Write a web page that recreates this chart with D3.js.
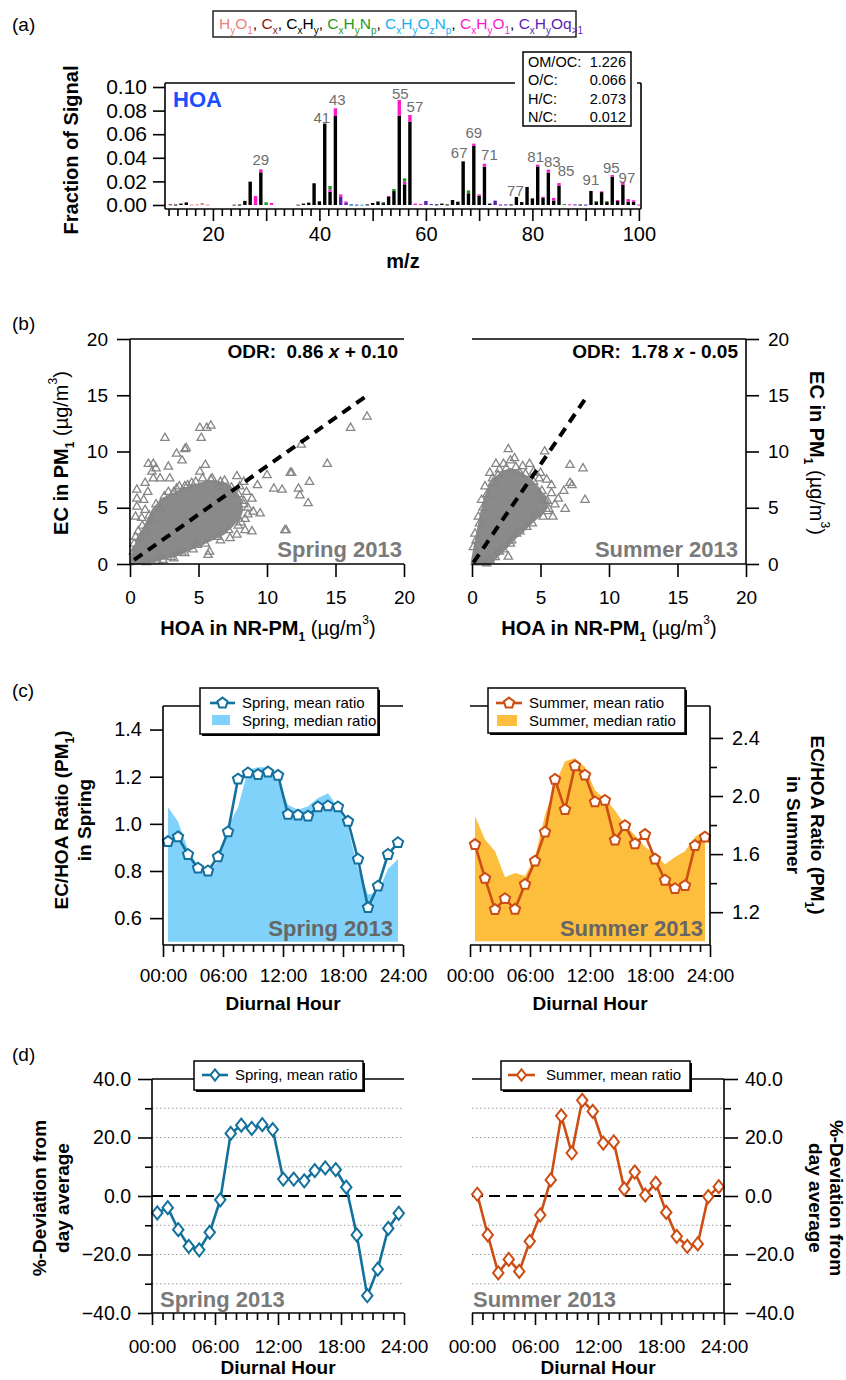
<!DOCTYPE html>
<html>
<head>
<meta charset="utf-8">
<script src="https://cdn.jsdelivr.net/npm/d3@7"></script>
<style>
body { margin: 0; background: #fff; }
svg { display: block; font-family: "Liberation Sans", Arial, Helvetica, sans-serif; }
</style>
</head>
<body>
<svg id="chart" width="846" height="1380"></svg>
<script>
// ---- (a) HOA mass spectrum, fraction of signal per ion family, [m/z, value]
var famHyO1 = [[16, 0.0004], [17, 0.0006], [18, 0.0016], [19, 0.0004]];
var famCx = [[12, 0.0006], [24, 0.0003], [36, 0.0003]];
var famCxHy = [[13, 0.0004], [14, 0.0012], [15, 0.0022], [25, 0.0004], [26, 0.0035], [27, 0.0198],
  [29, 0.0277], [37, 0.0012], [38, 0.002], [39, 0.0184], [40, 0.0031], [41, 0.069], [42, 0.0113],
  [43, 0.0754], [49, 0.0005], [50, 0.0017], [51, 0.003], [52, 0.0016], [53, 0.0072], [54, 0.0118],
  [55, 0.0757], [56, 0.0175], [57, 0.0706], [62, 0.0005], [63, 0.0012], [64, 0.0005], [65, 0.0042],
  [66, 0.0028], [67, 0.037], [68, 0.0099], [69, 0.0503], [70, 0.0078], [71, 0.0325], [72, 0.0012],
  [76, 0.0005], [77, 0.0068], [78, 0.0025], [79, 0.0153], [80, 0.0056], [81, 0.0327], [82, 0.0062],
  [83, 0.0274], [84, 0.0037], [85, 0.0164], [89, 0.0004], [91, 0.0119], [92, 0.0025], [93, 0.011],
  [94, 0.0025], [95, 0.024], [96, 0.0034], [97, 0.017], [98, 0.0028], [99, 0.0028]];
var famCxHyOq = [[44, 0.007], [45, 0.0018], [46, 0.0004], [47, 0.0003], [60, 0.0034], [61, 0.0008],
  [73, 0.0037], [74, 0.0004], [75, 0.0005], [88, 0.0005], [90, 0.0004]];
var famCxHyO1 = [[28, 0.0076], [29, 0.0025], [31, 0.0017], [42, 0.002], [43, 0.0066], [44, 0.0019],
  [45, 0.0012], [53, 0.0004], [55, 0.0133], [56, 0.0023], [57, 0.0057], [58, 0.0012], [59, 0.0008],
  [69, 0.0017], [70, 0.0012], [71, 0.0025], [81, 0.0015], [82, 0.0008], [83, 0.0026], [84, 0.0023],
  [85, 0.0022], [87, 0.0006], [93, 0.0006], [95, 0.0014], [96, 0.0008], [97, 0.0025], [98, 0.0022],
  [99, 0.0012], [100, 0.0004]];
var famCxHyOzNp = [[46, 0.0003], [48, 0.0003]];
var famCxHyNp = [[30, 0.0023], [42, 0.0028], [52, 0.0008], [54, 0.0018], [56, 0.0028], [68, 0.0025],
  [86, 0.0008], [92, 0.0008], [94, 0.0008]];
var peakLabels = [29, 41, 43, 55, 57, 67, 69, 71, 77, 81, 83, 85, 91, 95, 97];
var elemRatios = [["OM/OC:", "1.226"], ["O/C:", "0.066"], ["H/C:", "2.073"], ["N/C:", "0.012"]];
var specYTicks = [0, 0.02, 0.04, 0.06, 0.08, 0.10];
var specXLabels = [20, 40, 60, 80, 100];

// ---- (b) EC vs HOA scatter, [HOA, EC] in ug/m3
var springCore = [[0.24, 1.24], [0.73, 2.43], [1.22, 3.6], [1.7, 4.8], [2.3, 5.7], [3.0, 6.1], [3.9, 6.6],
  [4.9, 7.0], [5.6, 7.3], [6.3, 7.3], [7.1, 7.0], [7.7, 6.4], [8.0, 5.8], [8.15, 4.8], [8.0, 4.2],
  [7.5, 3.5], [6.8, 2.7], [6.1, 2.3], [5.1, 1.7], [4.1, 1.2], [3.4, 0.8], [2.4, 0.5], [1.5, 0.2],
  [0.5, 0.06], [0.12, 0]];
var springPts = [[17.3, 13.1], [16.1, 12.1], [14.4, 8.9], [13.1, 7.3], [13.0, 5.4], [12.5, 10.6], [12.3, 6.7],
  [12.4, 6.1], [11.7, 8.1], [11.8, 8.1], [11.1, 6.6], [10.5, 6.7], [10.0, 7.9], [11.4, 3.0], [11.3, 3.0],
  [9.3, 7.0], [9.0, 4.65], [9.5, 4.5], [8.9, 2.9], [8.4, 3.0], [7.8, 2.6], [7.3, 2.3], [6.6, 2.1],
  [5.7, 0.8], [5.8, 1.1], [4.9, 1.7], [4.0, 0.95], [3.2, 0.5], [2.4, 0.35], [3.6, 1.2],
  [5.1, 12.1], [5.6, 12.1], [5.9, 12.3], [5.2, 11.2], [2.55, 11.2], [3.4, 9.8], [4.1, 10.3], [4.0, 10.2],
  [3.8, 9.2], [2.8, 8.65], [1.34, 8.9], [1.7, 8.9], [1.9, 8.5], [5.5, 8.8], [1.6, 8.2], [1.7, 7.6],
  [2.2, 7.6], [2.9, 7.6], [5.1, 8.2], [6.0, 7.6], [7.8, 7.8], [8.3, 7.3], [1.1, 7.2], [0.5, 6.6],
  [0.5, 5.8], [1.0, 5.7], [0.5, 5.1], [0.4, 4.2], [0.85, 4.1], [1.1, 4.8], [1.3, 6.4], [2.8, 6.4],
  [3.4, 6.7], [6.45, 6.9], [8.0, 6.9], [8.5, 6.4], [8.9, 5.8], [8.6, 4.4], [7.9, 3.4], [0.25, 1.1],
  [0.73, 2.3], [1.1, 3.0], [4.5, 7.2], [3.6, 6.9], [7.2, 6.6], [8.3, 5.3], [6.9, 7.4], [4.2, 7.0],
  [0.3, 1.8], [0.6, 2.9], [0.9, 3.4], [1.4, 4.3], [1.9, 5.3], [2.5, 6.0], [3.2, 6.4], [4.0, 6.9],
  [4.8, 7.3], [5.3, 7.6], [5.9, 7.5], [6.6, 7.3], [7.4, 6.8], [7.9, 6.2], [8.3, 5.6], [8.6, 5.0],
  [8.4, 4.0], [8.1, 3.7], [7.2, 3.0], [6.4, 2.4], [5.5, 1.8], [4.6, 1.3], [3.8, 1.0], [3.0, 0.6],
  [2.0, 0.3], [1.2, 0.15], [0.6, 0.7], [0.4, 2.4], [1.6, 3.9], [2.2, 4.9]];
var summerCore = [[0.05, 0.36], [0.22, 1.54], [0.46, 3.0], [0.7, 4.5], [0.95, 5.7], [1.3, 6.9], [1.7, 7.6],
  [2.2, 8.1], [2.8, 8.4], [3.5, 8.1], [4.2, 7.5], [4.85, 6.7], [5.3, 5.8], [5.45, 5.1], [5.1, 4.5],
  [4.5, 3.9], [3.75, 3.0], [3.1, 2.3], [2.5, 1.5], [1.9, 0.8], [1.45, 0.2], [1.07, 0], [0, 0]];
var summerPts = [[8.1, 8.5], [7.15, 8.8], [8.25, 5.7], [7.15, 7.2], [7.3, 7.0], [6.7, 6.5], [6.8, 4.9],
  [5.9, 4.2], [6.05, 5.3], [5.3, 10.0], [2.65, 10.2], [1.75, 8.9], [2.3, 8.9], [4.2, 8.9], [4.5, 8.2],
  [5.8, 7.0], [2.65, 0.65], [2.8, 9.2], [3.1, 9.4], [5.0, 8.1], [5.45, 7.5], [5.8, 6.3], [5.3, 5.7],
  [1.3, 8.1], [0.95, 6.9], [0.7, 5.7], [0.46, 4.2], [0.22, 2.7], [0.1, 1.5], [0.34, 0.8], [4.7, 4.5],
  [4.0, 3.3], [3.26, 2.7], [2.8, 1.8], [2.0, 1.1], [1.3, 0.35], [1.07, 0.06], [3.5, 8.1], [2.0, 8.4],
  [3.7, 8.7], [4.9, 7.6], [1.5, 7.6], [5.5, 4.7], [6.3, 5.8],
  [0.3, 2.1], [0.55, 3.6], [0.8, 5.0], [1.1, 6.2], [1.5, 7.2], [1.9, 7.9], [2.5, 8.5], [3.2, 8.6],
  [3.9, 8.0], [4.5, 7.3], [5.1, 6.5], [5.5, 5.6], [5.6, 4.9], [5.2, 4.2], [4.4, 3.6], [3.5, 2.9],
  [2.9, 2.1], [2.3, 1.3], [1.7, 0.6], [0.6, 0.3]];
var springFit = [[0.3, 0.358], [17.3, 14.978]];
var summerFit = [[0.1, 0.128], [8.25, 14.635]];

// ---- (c) diurnal EC/HOA ratio, (d) %-deviation from day average
var hours = [0.5, 1.5, 2.5, 3.5, 4.5, 5.5, 6.5, 7.5, 8.5, 9.5, 10.5, 11.5,
  12.5, 13.5, 14.5, 15.5, 16.5, 17.5, 18.5, 19.5, 20.5, 21.5, 22.5, 23.5];
var springMean = [0.925, 0.945, 0.87, 0.812, 0.80, 0.86, 0.966, 1.19, 1.216, 1.209, 1.22, 1.206,
  1.04, 1.037, 1.033, 1.072, 1.076, 1.072, 1.011, 0.85, 0.645, 0.736, 0.87, 0.92];
var springMedian = [1.07, 1.01, 0.89, 0.82, 0.80, 0.84, 0.99, 1.07, 1.23, 1.24, 1.24, 1.18,
  1.08, 1.06, 1.075, 1.11, 1.13, 1.07, 0.985, 0.81, 0.70, 0.71, 0.81, 0.85];
var summerMean = [1.666, 1.433, 1.218, 1.293, 1.22, 1.392, 1.552, 1.751, 2.115, 1.906, 2.208, 2.144,
  1.959, 1.97, 1.696, 1.796, 1.671, 1.735, 1.566, 1.42, 1.362, 1.383, 1.659, 1.717];
var summerMedian = [1.86, 1.70, 1.62, 1.44, 1.47, 1.45, 1.58, 1.87, 2.08, 2.24, 2.26, 2.20,
  2.04, 1.98, 1.90, 1.80, 1.73, 1.65, 1.60, 1.53, 1.58, 1.62, 1.72, 1.76];
var springDev = [-5.8, -4.0, -11.5, -17.2, -18.4, -12.4, -1.3, 21.4, 24.2, 23.1, 24.4, 22.7,
  5.8, 5.8, 5.2, 8.7, 9.6, 9.0, 3.0, -13.3, -34.1, -25.0, -11.1, -5.9];
var summerDev = [0.6, -13.3, -26.3, -21.7, -25.8, -15.5, -6.5, 5.5, 27.4, 14.7, 32.7, 28.9,
  18.1, 18.5, 2.4, 8.2, 0.3, 4.4, -5.6, -13.8, -17.2, -16.4, -0.2, 3.2];
var hourTicks = [0, 6, 12, 18, 24];
var hourLabels = ["00:00", "06:00", "12:00", "18:00", "24:00"];

var svg = d3.select("#chart");
var LW = 1.6;
var GREY = "#7a7a7a";

function line(x1, y1, x2, y2, w) {
  return svg.append("line").attr("x1", x1).attr("y1", y1).attr("x2", x2).attr("y2", y2)
    .attr("stroke", "#000").attr("stroke-width", w || LW);
}

function txt(x, y, s, o) {
  o = o || {};
  var t = svg.append("text").attr("x", x).attr("y", y).text(s)
    .attr("font-size", o.fs || 19)
    .attr("font-weight", o.bold ? "bold" : "normal")
    .attr("text-anchor", o.anchor || "start")
    .attr("fill", o.color || "#000");
  if (o.rot) t.attr("transform", "rotate(" + o.rot + "," + x + "," + y + ")");
  return t;
}

// parts: [text, kind ("n" | "sub" | "sup"), bold, color, italic]
function rich(x, y, parts, o) {
  o = o || {};
  var fs = o.fs || 19;
  var t = svg.append("text").attr("x", x).attr("y", y)
    .attr("font-size", fs).attr("text-anchor", o.anchor || "start");
  if (o.rot) t.attr("transform", "rotate(" + o.rot + "," + x + "," + y + ")");
  var cur = 0;
  parts.forEach(function (p) {
    var shift = p[1] === "sub" ? 0.3 * fs : (p[1] === "sup" ? -0.55 * fs : 0);
    t.append("tspan").text(p[0])
      .attr("dy", shift - cur)
      .attr("font-size", p[1] === "n" ? fs : Math.round(fs * 0.62))
      .attr("font-weight", p[2] ? "bold" : "normal")
      .attr("font-style", p[4] ? "italic" : "normal")
      .attr("fill", p[3] || "#000");
    cur = shift;
  });
  return t;
}

function styleAxis(g, fs) {
  g.select(".domain").remove();
  g.selectAll(".tick line").attr("stroke", "#000").attr("stroke-width", LW);
  g.selectAll(".tick text").attr("font-size", fs).attr("fill", "#000")
    .attr("font-family", '"Liberation Sans", Arial, sans-serif');
}

function legendBox(x, y, w, h) {
  svg.append("rect").attr("x", x + 2).attr("y", y + 2).attr("width", w).attr("height", h).attr("fill", "#000");
  svg.append("rect").attr("x", x).attr("y", y).attr("width", w).attr("height", h)
    .attr("fill", "#fff").attr("stroke", "#000").attr("stroke-width", 1.5);
}

// ================= (a) =================
txt(12, 31, "(a)", { fs: 19 });

var specX = d3.scaleLinear().domain([11, 100.4]).range([165, 641]);
var specY = d3.scaleLinear().domain([-0.0034, 0.1034]).range([209, 83]);

var families = [
  { color: "#f08080", data: famHyO1, label: [["H", "n"], ["y", "sub"], ["O", "n"], ["1", "sub"]] },
  { color: "#8b1a1a", data: famCx, label: [["C", "n"], ["x", "sub"]] },
  { color: "#000000", data: famCxHy, label: [["C", "n"], ["x", "sub"], ["H", "n"], ["y", "sub"]] },
  { color: "#1f9a1f", data: famCxHyNp, label: [["C", "n"], ["x", "sub"], ["H", "n"], ["y", "sub"], ["N", "n"], ["p", "sub"]] },
  { color: "#17b0ee", data: famCxHyOzNp, label: [["C", "n"], ["x", "sub"], ["H", "n"], ["y", "sub"], ["O", "n"], ["z", "sub"], ["N", "n"], ["p", "sub"]] },
  { color: "#ff19c8", data: famCxHyO1, label: [["C", "n"], ["x", "sub"], ["H", "n"], ["y", "sub"], ["O", "n"], ["1", "sub"]] },
  { color: "#5b1fb4", data: famCxHyOq, label: [["C", "n"], ["x", "sub"], ["H", "n"], ["y", "sub"], ["Oq", "n"], [">1", "sub"]] }
];
// stacking order seen in the spectrum
var stackOrder = [0, 1, 2, 6, 5, 4, 3];
var base = {};
var segs = [];
stackOrder.forEach(function (fi) {
  var f = families[fi];
  f.data.forEach(function (d) {
    var b = base[d[0]] || 0;
    segs.push({ mz: d[0], y0: b, y1: b + d[1], color: f.color });
    base[d[0]] = b + d[1];
  });
});

svg.append("g").selectAll("rect").data(segs).enter().append("rect")
  .attr("x", function (d) { return specX(d.mz) - 1.7; })
  .attr("width", 3.4)
  .attr("y", function (d) { return specY(d.y1); })
  .attr("height", function (d) { return Math.max(1, specY(d.y0) - specY(d.y1)); })
  .attr("fill", function (d) { return d.color; });

// peak labels
var labelNudge = { 29: [0, -4], 41: [-3, -1], 43: [2, -3], 55: [1, -1], 57: [5, -3], 67: [-4, -3], 69: [0, -6],
  71: [5, -4], 77: [-1, -1], 81: [-2, -3], 83: [4, -3], 85: [7, -7], 91: [0, -6], 95: [-1, -2], 97: [4, 1] };
svg.append("g").selectAll("text").data(peakLabels).enter().append("text")
  .attr("x", function (d) { return specX(d) + labelNudge[d][0]; })
  .attr("y", function (d) { return specY(base[d]) + labelNudge[d][1]; })
  .attr("text-anchor", "middle").attr("font-size", 15).attr("fill", "#6e6e6e")
  .text(function (d) { return d; });

// frame
line(165, 83, 641, 83);
line(165, 209, 641, 209);
line(165, 83, 165, 209);
line(641, 83, 641, 209);

var gy = svg.append("g").attr("transform", "translate(165,0)")
  .call(d3.axisLeft(specY).tickValues(specYTicks).tickSize(12).tickPadding(6).tickFormat(d3.format(".2f")));
styleAxis(gy, 21);

var minorMz = d3.range(0, 55).map(function (i) { return 20 + (i - 5) * 20 / 12; })
  .filter(function (v) { return v > 11 && v <= 100.4 && Math.abs(v - Math.round(v / 10) * 10) > 0.01; });
var gxm = svg.append("g").attr("transform", "translate(0,209)")
  .call(d3.axisBottom(specX).tickValues(minorMz).tickSize(7).tickFormat(""));
styleAxis(gxm, 20);
var gx = svg.append("g").attr("transform", "translate(0,209)")
  .call(d3.axisBottom(specX).tickValues(d3.range(20, 101, 10)).tickSize(12).tickPadding(6)
    .tickFormat(function (d) { return specXLabels.indexOf(d) >= 0 ? d : ""; }));
styleAxis(gx, 20);

txt(78, 150, "Fraction of Signal", { fs: 20, bold: true, anchor: "middle", rot: -90 });
txt(403, 268, "m/z", { fs: 20, bold: true, anchor: "middle" });
txt(173, 107, "HOA", { fs: 22, bold: true, color: "#1a4dff" });

// ion family legend
svg.append("rect").attr("x", 213).attr("y", 11).attr("width", 363).attr("height", 26)
  .attr("fill", "#fff").attr("stroke", "#000").attr("stroke-width", 1.3);
var legParts = [];
families.forEach(function (f, i) {
  f.label.forEach(function (p) { legParts.push([p[0], p[1], false, f.color]); });
  if (i < families.length - 1) legParts.push([", ", "n", false, "#000"]);
});
rich(219, 29, legParts, { fs: 15.5 });

// elemental ratio box
svg.append("rect").attr("x", 515).attr("y", 48).attr("width", 122).attr("height", 82).attr("fill", "#fff");
svg.append("rect").attr("x", 523).attr("y", 52).attr("width", 108).attr("height", 74)
  .attr("fill", "#fff").attr("stroke", "#000").attr("stroke-width", 1.5);
elemRatios.forEach(function (r, i) {
  txt(528, 67 + i * 18.3, r[0], { fs: 14.5 });
  txt(626, 67 + i * 18.3, r[1], { fs: 14.5, anchor: "end" });
});

// ================= (b) =================
txt(12, 330, "(b)", { fs: 19 });
var yB = d3.scaleLinear().domain([0, 20]).range([564, 339]);
var xB1 = d3.scaleLinear().domain([0, 20]).range([130, 404]);
var xB2 = d3.scaleLinear().domain([0, 20]).range([472, 746]);
var tri = d3.symbol().type(d3.symbolTriangle).size(30);

function scatterPanel(xs, core, pts, fit) {
  svg.append("path").datum(core)
    .attr("d", d3.line().x(function (d) { return xs(d[0]); }).y(function (d) { return yB(d[1]); }).curve(d3.curveLinearClosed))
    .attr("fill", "#8a8a8a").attr("stroke", "#8a8a8a").attr("stroke-width", 3).attr("stroke-linejoin", "round");
  svg.append("g").selectAll("path").data(pts).enter().append("path")
    .attr("d", tri)
    .attr("transform", function (d) { return "translate(" + xs(d[0]) + "," + yB(d[1]) + ")"; })
    .attr("fill", "none").attr("stroke", "#858585").attr("stroke-width", 1.3);
  svg.append("path").datum(fit)
    .attr("d", d3.line().x(function (d) { return xs(d[0]); }).y(function (d) { return yB(d[1]); }))
    .attr("stroke", "#000").attr("stroke-width", 4).attr("stroke-dasharray", "10,7").attr("fill", "none");
}
scatterPanel(xB1, springCore, springPts, springFit);
scatterPanel(xB2, summerCore, summerPts, summerFit);

// left scatter axes
line(130, 339, 404, 339);
line(130, 339, 130, 564);
line(130, 564, 404, 564);
var gb1 = svg.append("g").attr("transform", "translate(130,0)")
  .call(d3.axisLeft(yB).tickValues([0, 5, 10, 15, 20]).tickSize(13).tickPadding(9));
styleAxis(gb1, 19);
var gb2 = svg.append("g").attr("transform", "translate(0,564)")
  .call(d3.axisBottom(xB1).tickValues([0, 5, 10, 15, 20]).tickSize(13).tickPadding(14));
styleAxis(gb2, 19);
// right scatter axes
line(472, 339, 746, 339);
line(746, 339, 746, 564);
line(472, 564, 746, 564);
var gb3 = svg.append("g").attr("transform", "translate(746,0)")
  .call(d3.axisRight(yB).tickValues([0, 5, 10, 15, 20]).tickSize(13).tickPadding(9));
styleAxis(gb3, 19);
var gb4 = svg.append("g").attr("transform", "translate(0,564)")
  .call(d3.axisBottom(xB2).tickValues([0, 5, 10, 15, 20]).tickSize(13).tickPadding(14));
styleAxis(gb4, 19);

var ecLabel = [["EC in PM", "n", true], ["1", "sub", true], [" (\u00b5g/m", "n", false], ["3", "sup", false], [")", "n", false]];
var hoaLabel = [["HOA in NR-PM", "n", true], ["1", "sub", true], [" (\u00b5g/m", "n", false], ["3", "sup", false], [")", "n", false]];
rich(68, 453, ecLabel, { fs: 20, anchor: "middle", rot: -90 });
rich(810, 453, ecLabel, { fs: 20, anchor: "middle", rot: 90 });
rich(268, 635, hoaLabel, { fs: 20, anchor: "middle" });
rich(609, 635, hoaLabel, { fs: 20, anchor: "middle" });

rich(398, 358, [["ODR:\u00a0 0.86 ", "n", true], ["x", "n", true, "#000", true], [" + 0.10", "n", true]], { fs: 19, anchor: "end" });
rich(738, 358, [["ODR:\u00a0 1.78 ", "n", true], ["x", "n", true, "#000", true], [" - 0.05", "n", true]], { fs: 19, anchor: "end" });
txt(402, 557, "Spring 2013", { fs: 22, bold: true, anchor: "end", color: GREY });
txt(738, 557, "Summer 2013", { fs: 22, bold: true, anchor: "end", color: GREY });

// ================= shared diurnal helpers =================
var pentagon = {
  draw: function (ctx, size) {
    var r = Math.sqrt(size / 2.378);
    for (var i = 0; i < 5; i++) {
      var a = -Math.PI / 2 + i * 2 * Math.PI / 5;
      if (i === 0) ctx.moveTo(r * Math.cos(a), r * Math.sin(a));
      else ctx.lineTo(r * Math.cos(a), r * Math.sin(a));
    }
    ctx.closePath();
  }
};
var diamond = {
  draw: function (ctx, size) {
    var h = Math.sqrt(size / 1.6), w = h * 0.8;
    ctx.moveTo(0, -h); ctx.lineTo(w, 0); ctx.lineTo(0, h); ctx.lineTo(-w, 0); ctx.closePath();
  }
};

function hourAxis(xs, y0, labelBase, titleBase) {
  var gm = svg.append("g").attr("transform", "translate(0," + y0 + ")")
    .call(d3.axisBottom(xs).tickValues(d3.range(0, 25).filter(function (h) { return h % 6 !== 0; })).tickSize(7).tickFormat(""));
  styleAxis(gm, 19);
  var g = svg.append("g").attr("transform", "translate(0," + y0 + ")")
    .call(d3.axisBottom(xs).tickValues(hourTicks).tickSize(12)
      .tickPadding(labelBase - y0 - 12 - 13.5)
      .tickFormat(function (d, i) { return hourLabels[i]; }));
  styleAxis(g, 19);
  var r = xs.range();
  txt((r[0] + r[1]) / 2, titleBase, "Diurnal Hour", { fs: 19, bold: true, anchor: "middle" });
}

function seriesLine(xs, ys, vals, color, sym, size) {
  svg.append("path").datum(vals)
    .attr("d", d3.line().x(function (d, i) { return xs(hours[i]); }).y(function (d) { return ys(d); }))
    .attr("fill", "none").attr("stroke", color).attr("stroke-width", 2.6).attr("stroke-linejoin", "round");
  svg.append("g").selectAll("path").data(vals).enter().append("path")
    .attr("d", d3.symbol().type(sym).size(size))
    .attr("transform", function (d, i) { return "translate(" + xs(hours[i]) + "," + ys(d) + ")"; })
    .attr("fill", "#fff").attr("stroke", color).attr("stroke-width", 2);
}

var SPRING = "#14709c", SUMMER = "#cc4e14";
var SPRING_FILL = "#80d2fa", SUMMER_FILL = "#fdbd3d";

// ================= (c) =================
txt(12, 697, "(c)", { fs: 19 });
var xC1 = d3.scaleLinear().domain([0, 24]).range([163, 403]);
var yC1 = d3.scaleLinear().domain([0.486, 1.5]).range([945, 706]);
var xC2 = d3.scaleLinear().domain([0, 24]).range([470, 710]);
var yC2 = d3.scaleLinear().domain([0.974, 2.62]).range([945, 706]);

svg.append("path").datum(springMedian)
  .attr("d", d3.area().x(function (d, i) { return xC1(hours[i]); }).y0(yC1(0.5)).y1(function (d) { return yC1(d); }))
  .attr("fill", SPRING_FILL);
svg.append("path").datum(summerMedian)
  .attr("d", d3.area().x(function (d, i) { return xC2(hours[i]); }).y0(yC2(1.0)).y1(function (d) { return yC2(d); }))
  .attr("fill", SUMMER_FILL);

txt(393, 936, "Spring 2013", { fs: 22, bold: true, anchor: "end", color: "#666" });
txt(703, 936, "Summer 2013", { fs: 22, bold: true, anchor: "end", color: "#666" });

seriesLine(xC1, yC1, springMean, SPRING, pentagon, 70);
seriesLine(xC2, yC2, summerMean, SUMMER, pentagon, 70);

line(163, 706, 403, 706);
line(163, 706, 163, 945);
line(163, 945, 403, 945);
var gc1 = svg.append("g").attr("transform", "translate(163,0)")
  .call(d3.axisLeft(yC1).tickValues([0.6, 0.8, 1.0, 1.2, 1.4]).tickSize(13).tickPadding(8).tickFormat(d3.format(".1f")));
styleAxis(gc1, 20);
hourAxis(xC1, 945, 982, 1010);

line(470, 706, 710, 706);
line(710, 706, 710, 945);
line(470, 945, 710, 945);
var gc2m = svg.append("g").attr("transform", "translate(710,0)")
  .call(d3.axisRight(yC2).tickValues([1.4, 1.8, 2.2]).tickSize(7).tickFormat(""));
styleAxis(gc2m, 20);
var gc2 = svg.append("g").attr("transform", "translate(710,0)")
  .call(d3.axisRight(yC2).tickValues([1.2, 1.6, 2.0, 2.4]).tickSize(13).tickPadding(9).tickFormat(d3.format(".1f")));
styleAxis(gc2, 20);
hourAxis(xC2, 945, 982, 1010);

var ratioLabel = [["EC/HOA Ratio (PM", "n", true], ["1", "sub", true], [")", "n", true]];
rich(68, 820, ratioLabel, { fs: 19, anchor: "middle", rot: -90 });
txt(91, 820, "in Spring", { fs: 19, bold: true, anchor: "middle", rot: -90 });
rich(811, 825, ratioLabel, { fs: 19, anchor: "middle", rot: 90 });
txt(787, 825, "in Summer", { fs: 19, bold: true, anchor: "middle", rot: 90 });

// (c) legends
legendBox(200, 688, 178, 46);
svg.append("line").attr("x1", 210).attr("x2", 235).attr("y1", 703).attr("y2", 703).attr("stroke", SPRING).attr("stroke-width", 2.6);
svg.append("path").attr("d", d3.symbol().type(pentagon).size(70)).attr("transform", "translate(222.5,703)")
  .attr("fill", "#fff").attr("stroke", SPRING).attr("stroke-width", 2);
txt(242, 708, "Spring, mean ratio", { fs: 15 });
svg.append("rect").attr("x", 212).attr("y", 715).attr("width", 18).attr("height", 10).attr("fill", SPRING_FILL);
txt(242, 726, "Spring, median ratio", { fs: 15 });

legendBox(488, 688, 197, 45);
svg.append("line").attr("x1", 496).attr("x2", 522).attr("y1", 703).attr("y2", 703).attr("stroke", SUMMER).attr("stroke-width", 2.6);
svg.append("path").attr("d", d3.symbol().type(pentagon).size(70)).attr("transform", "translate(509,703)")
  .attr("fill", "#fff").attr("stroke", SUMMER).attr("stroke-width", 2);
txt(529, 708, "Summer, mean ratio", { fs: 15 });
svg.append("rect").attr("x", 497).attr("y", 715).attr("width", 20).attr("height", 11).attr("fill", SUMMER_FILL);
txt(529, 726, "Summer, median ratio", { fs: 15 });

// ================= (d) =================
txt(12, 1061, "(d)", { fs: 19 });
var yD = d3.scaleLinear().domain([-40, 40]).range([1313, 1079]);
var xD1 = d3.scaleLinear().domain([0, 24]).range([152, 404]);
var xD2 = d3.scaleLinear().domain([0, 24]).range([472, 724]);
var gridVals = [-30, -20, -10, 10, 20, 30];

function devPanel(xs, vals, color, axisX, right) {
  var r = xs.range();
  svg.append("g").selectAll("line").data(gridVals).enter().append("line")
    .attr("x1", r[0]).attr("x2", r[1])
    .attr("y1", function (d) { return yD(d); }).attr("y2", function (d) { return yD(d); })
    .attr("stroke", "#9a9a9a").attr("stroke-width", 1).attr("stroke-dasharray", "1.5,2.5");
  svg.append("line").attr("x1", r[0]).attr("x2", r[1]).attr("y1", yD(0)).attr("y2", yD(0))
    .attr("stroke", "#000").attr("stroke-width", 2).attr("stroke-dasharray", "11,6");
  seriesLine(xs, yD, vals, color, diamond, 68);
  line(r[0], 1079, r[1], 1079);
  line(axisX, 1079, axisX, 1313);
  line(r[0], 1313, r[1], 1313);
  var ax = right ? d3.axisRight : d3.axisLeft;
  var gm = svg.append("g").attr("transform", "translate(" + axisX + ",0)")
    .call(ax(yD).tickValues([-30, -10, 10, 30]).tickSize(7).tickFormat(""));
  styleAxis(gm, 19);
  var g = svg.append("g").attr("transform", "translate(" + axisX + ",0)")
    .call(ax(yD).tickValues([-40, -20, 0, 20, 40]).tickSize(14).tickPadding(7).tickFormat(d3.format(".1f")));
  styleAxis(g, 19.5);
  hourAxis(xs, 1313, 1353, 1374);
}
devPanel(xD1, springDev, SPRING, 152, false);
devPanel(xD2, summerDev, SUMMER, 724, true);

txt(160, 1307, "Spring 2013", { fs: 22, bold: true, color: GREY });
txt(473, 1307, "Summer 2013", { fs: 22, bold: true, color: GREY });

txt(46, 1198, "%-Deviation from", { fs: 19, bold: true, anchor: "middle", rot: -90 });
txt(69, 1198, "day average", { fs: 19, bold: true, anchor: "middle", rot: -90 });
txt(830, 1198, "%-Deviation from", { fs: 19, bold: true, anchor: "middle", rot: 90 });
txt(809, 1198, "day average", { fs: 19, bold: true, anchor: "middle", rot: 90 });

legendBox(194, 1061, 169, 29);
svg.append("line").attr("x1", 202).attr("x2", 228).attr("y1", 1075).attr("y2", 1075).attr("stroke", SPRING).attr("stroke-width", 2.6);
svg.append("path").attr("d", d3.symbol().type(diamond).size(50)).attr("transform", "translate(215,1075)")
  .attr("fill", "#fff").attr("stroke", SPRING).attr("stroke-width", 2);
txt(235, 1080, "Spring, mean ratio", { fs: 15 });

legendBox(501, 1061, 189, 29);
svg.append("line").attr("x1", 508).attr("x2", 535).attr("y1", 1075).attr("y2", 1075).attr("stroke", SUMMER).attr("stroke-width", 2.6);
svg.append("path").attr("d", d3.symbol().type(diamond).size(50)).attr("transform", "translate(521.5,1075)")
  .attr("fill", "#fff").attr("stroke", SUMMER).attr("stroke-width", 2);
txt(546, 1080, "Summer, mean ratio", { fs: 15 });
</script>
</body>
</html>
